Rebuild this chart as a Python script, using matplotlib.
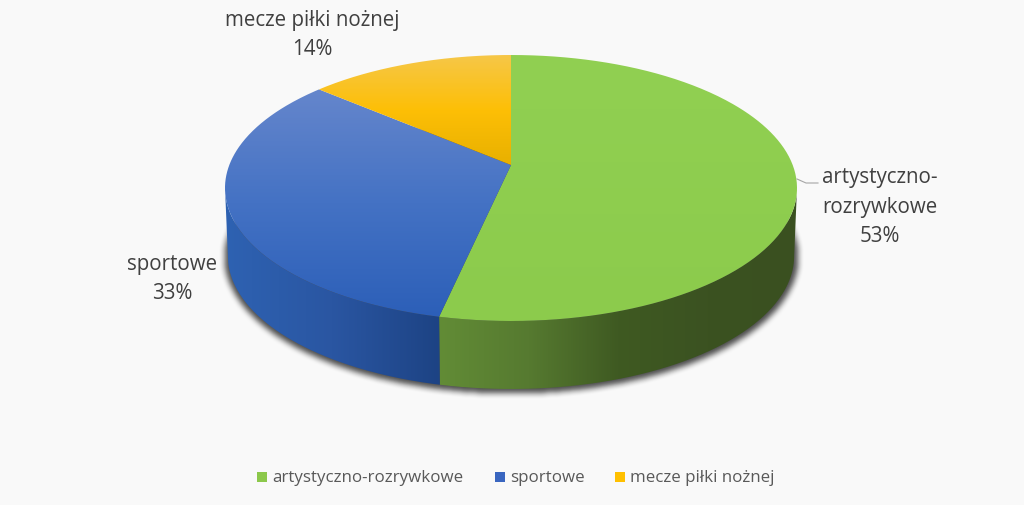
import numpy as np
import matplotlib
matplotlib.use("Agg")
import matplotlib.pyplot as plt
from matplotlib.path import Path
from matplotlib.patches import PathPatch, Rectangle
from matplotlib.colors import LinearSegmentedColormap

categories = ["artystyczno-rozrywkowe", "sportowe", "mecze piłki nożnej"]
values = [53.4, 32.9, 13.7]
label_text = ["artystyczno-\nrozrywkowe", "sportowe", "mecze piłki nożnej"]

legend_colors = ["#8CC84B", "#3A66C0", "#FFC000"]
top_colors = [["#91D052", "#8CCB4C"],
              ["#6586CC", "#4472C4", "#2C5FB8"],
              ["#F6C748", "#FDBF06", "#E8B000"]]
side_colors = [["#628C36", "#567A30", "#3F5A22", "#3B5221", "#3A5020"],
               ["#2E62B2", "#2A56A2", "#1D4384"]]

plt.rcParams["font.family"] = ["Open Sans", "DejaVu Sans"]
text_color = "#404040"
bg = "#F9F9F9"

fig = plt.figure(figsize=(10.24, 5.06), dpi=100, facecolor=bg)
ax = fig.add_axes([0, 0, 1, 1])
ax.set_xlim(0, 1024)
ax.set_ylim(506, 0)
ax.axis("off")

cx, cy, rx, ry, depth = 511, 189, 286, 133, 68
tilt = 0.173  # apex sits above the ellipse centre (perspective)
bottom_scale = 0.99


def rim(theta):
    # theta clockwise from 12 o'clock, mapped through the perspective of the disc
    x, y = np.sin(theta), np.cos(theta)
    d = 1 + tilt * y
    xp = x * np.sqrt(1 - tilt ** 2) / d
    yp = (y + tilt) / d
    return cx + rx * xp, cy - ry * yp


def grad_image(path, colors, extent, horizontal=False, zorder=2):
    cmap = LinearSegmentedColormap.from_list("g", colors)
    g = np.linspace(0, 1, 256)
    arr = g[None, :] if horizontal else g[:, None]
    im = ax.imshow(arr, cmap=cmap, extent=extent, aspect="auto", zorder=zorder, interpolation="bilinear")
    im.set_clip_path(PathPatch(path, transform=ax.transData))
    ax.set_xlim(0, 1024)
    ax.set_ylim(506, 0)


apex = (cx, cy - ry * tilt)
edges = 2 * np.pi * np.concatenate([[0], np.cumsum(values)]) / sum(values)

# soft shadow under the body of the pie
yy, xx = np.mgrid[0:506, 0:1024]
mask = (((xx - cx) / (rx + 1)) ** 2 + ((yy - (cy + depth + 1)) / (ry + 3)) ** 2 < 1).astype(float)
kernel = np.ones(7) / 7
for _ in range(2):
    mask = np.apply_along_axis(lambda r: np.convolve(r, kernel, mode="same"), 0, mask)
    mask = np.apply_along_axis(lambda r: np.convolve(r, kernel, mode="same"), 1, mask)
shadow = np.zeros((506, 1024, 4))
shadow[..., 3] = mask * 0.7
ax.imshow(shadow, extent=(0, 1024, 506, 0), aspect="auto", zorder=1)
ax.set_xlim(0, 1024)
ax.set_ylim(506, 0)

# side walls: only the front part of the rim, from the right to the left extreme
t_right = np.pi / 2 + np.arcsin(tilt)
t_left = 3 * np.pi / 2 - np.arcsin(tilt)
for i, (a, b) in enumerate([(t_right, edges[1]), (edges[1], t_left)]):
    t = np.linspace(a, b, 200)
    x, y = rim(t)
    xb = cx + (x - cx) * bottom_scale
    verts = list(zip(x, y)) + list(zip(xb[::-1], y[::-1] + depth))
    path = Path(verts + [verts[0]])
    grad_image(path, side_colors[i], (x.min(), x.max(), 506, 0), horizontal=True)

# top faces
for i in range(3):
    t = np.linspace(edges[i], edges[i + 1], 300)
    x, y = rim(t)
    verts = [apex] + list(zip(x, y)) + [apex]
    path = Path(verts)
    y0 = min(y.min(), apex[1])
    y1 = max(y.max(), apex[1])
    grad_image(path, top_colors[i], (cx - rx, cx + rx, y1, y0), zorder=3)

# data labels
pct = [f"{v:.0f}%" for v in values]
fs = 14.8
ax.text(880, 207, label_text[0] + "\n" + pct[0], ha="center", va="center", fontsize=fs,
        color=text_color, linespacing=1.54)
ax.text(172, 279, label_text[1] + "\n" + pct[1], ha="center", va="center", fontsize=fs,
        color=text_color, linespacing=1.54)
ax.text(312, 35, label_text[2] + "\n" + pct[2], ha="center", va="center", fontsize=fs,
        color=text_color, linespacing=1.54)
ax.plot([797, 806, 818], [180, 184, 184], color="#A6A6A6", lw=0.8, zorder=4)

# legend
leg_x = [257, 495, 615]
for name, c, lx in zip(categories, legend_colors, leg_x):
    ax.add_patch(Rectangle((lx, 473), 10, 10, facecolor=c, edgecolor="none", zorder=4))
    ax.text(lx + 15, 478, name, ha="left", va="center", fontsize=12.2, color="#595959")

fig.savefig("out.png", dpi=100, facecolor=bg)
